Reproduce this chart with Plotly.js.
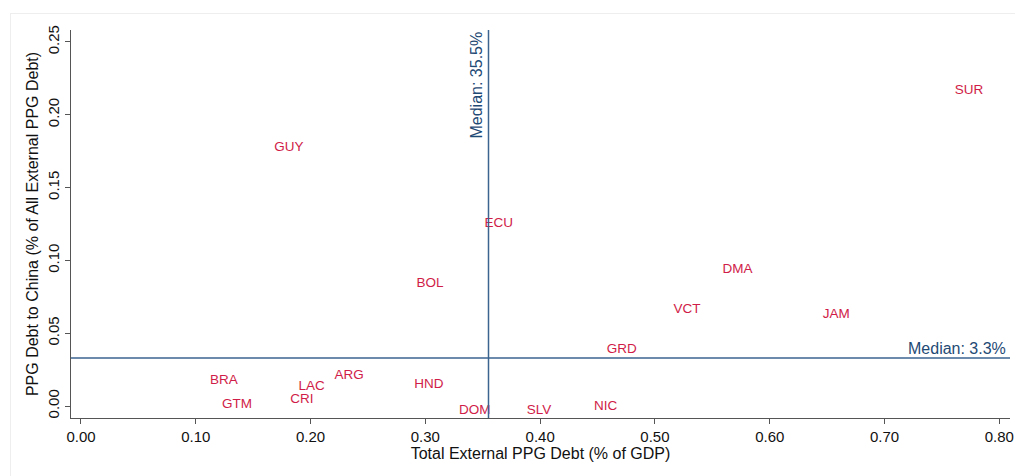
<!DOCTYPE html>
<html>
<head>
<meta charset="utf-8">
<script src="https://cdn.plot.ly/plotly-3.0.1.min.js"></script>
<style>
  html, body { margin: 0; padding: 0; background: #fff; }
  #frame { position: absolute; left: 10px; top: 13px; width: 1010px; height: 470px; border-left: 1px solid #eeeeee; border-top: 1px solid #eeeeee; }
  #chart { position: absolute; left: 0; top: 0; width: 1015px; height: 476px; }
</style>
</head>
<body>
<div id="frame"></div>
<div id="chart"></div>
<script>
const countries = ["SUR","GUY","ECU","DMA","BOL","VCT","JAM","GRD","ARG","BRA","HND","LAC","CRI","GTM","NIC","DOM","SLV"];
const totalDebtGDP = [0.7735,0.181,0.364,0.572,0.304,0.528,0.658,0.471,0.2335,0.1245,0.303,0.201,0.1925,0.136,0.457,0.343,0.399];
const chinaShare  = [0.2165,0.1775,0.1253,0.0937,0.0842,0.0663,0.0628,0.0388,0.0210,0.0175,0.0148,0.0134,0.0045,0.0011,-0.0003,-0.0031,-0.0031];
const medianX = 0.355;
const medianY = 0.033;
const xTicks = [0,0.1,0.2,0.3,0.4,0.5,0.6,0.7,0.8];
const xTickLabels = ["0.00","0.10","0.20","0.30","0.40","0.50","0.60","0.70","0.80"];
const yTicks = [0,0.05,0.1,0.15,0.2,0.25];
const yTickLabels = ["0.00","0.05","0.10","0.15","0.20","0.25"];

const font = "Liberation Sans, Arial, Helvetica, sans-serif";
const lineColor = "#3b6590";
const labelColor = "#d01c48";

const trace = {
  type: "scatter",
  mode: "text",
  x: totalDebtGDP,
  y: chinaShare,
  text: countries,
  textposition: "middle center",
  textfont: {family: font, size: 13.5, color: labelColor},
  hoverinfo: "x+y+text",
  showlegend: false
};

const layout = {
  width: 1015, height: 476,
  margin: {l: 71, r: 5, t: 30, b: 58},
  paper_bgcolor: "rgba(0,0,0,0)",
  plot_bgcolor: "#ffffff",
  font: {family: font, color: "#111"},
  xaxis: {
    range: [-0.0087, 0.8093],
    tickvals: xTicks, ticktext: xTickLabels,
    showgrid: false, zeroline: false,
    showline: true, linecolor: "#555", linewidth: 1,
    ticks: "outside", ticklen: 5, tickcolor: "#555",
    tickfont: {family: font, size: 15, color: "#111"},
    title: {text: "Total External PPG Debt (% of GDP)", font: {family: font, size: 16, color: "#111"}, standoff: 2}
  },
  yaxis: {
    range: [-0.0082, 0.2582],
    tickvals: yTicks, ticktext: yTickLabels,
    tickangle: -90,
    showgrid: false, zeroline: false,
    showline: true, linecolor: "#555", linewidth: 1,
    ticks: "outside", ticklen: 5, tickcolor: "#555",
    tickfont: {family: font, size: 15, color: "#111"},
    title: {text: "PPG Debt to China (% of All External PPG Debt)", font: {family: font, size: 16, color: "#111"}, standoff: 2}
  },
  shapes: [
    {type: "line", xref: "x", yref: "paper", x0: medianX, x1: medianX, y0: 0, y1: 1, line: {color: lineColor, width: 1.5}},
    {type: "line", xref: "paper", yref: "y", x0: 0, x1: 1, y0: medianY, y1: medianY, line: {color: lineColor, width: 1.5}}
  ],
  annotations: [
    {xref: "x", yref: "paper", x: medianX, y: 1, xanchor: "right", yanchor: "top", xshift: -2,
     text: "Median: " + (medianX*100).toFixed(1) + "%", textangle: -90, showarrow: false,
     font: {family: font, size: 16, color: "#1f4a75"}},
    {xref: "paper", yref: "y", x: 1, y: medianY, xanchor: "right", yanchor: "bottom", xshift: -2, yshift: -1,
     text: "Median: " + (medianY*100).toFixed(1) + "%", showarrow: false,
     font: {family: font, size: 16, color: "#1f4a75"}}
  ]
};

Plotly.newPlot("chart", [trace], layout, {displayModeBar: false, staticPlot: true});
</script>
</body>
</html>
